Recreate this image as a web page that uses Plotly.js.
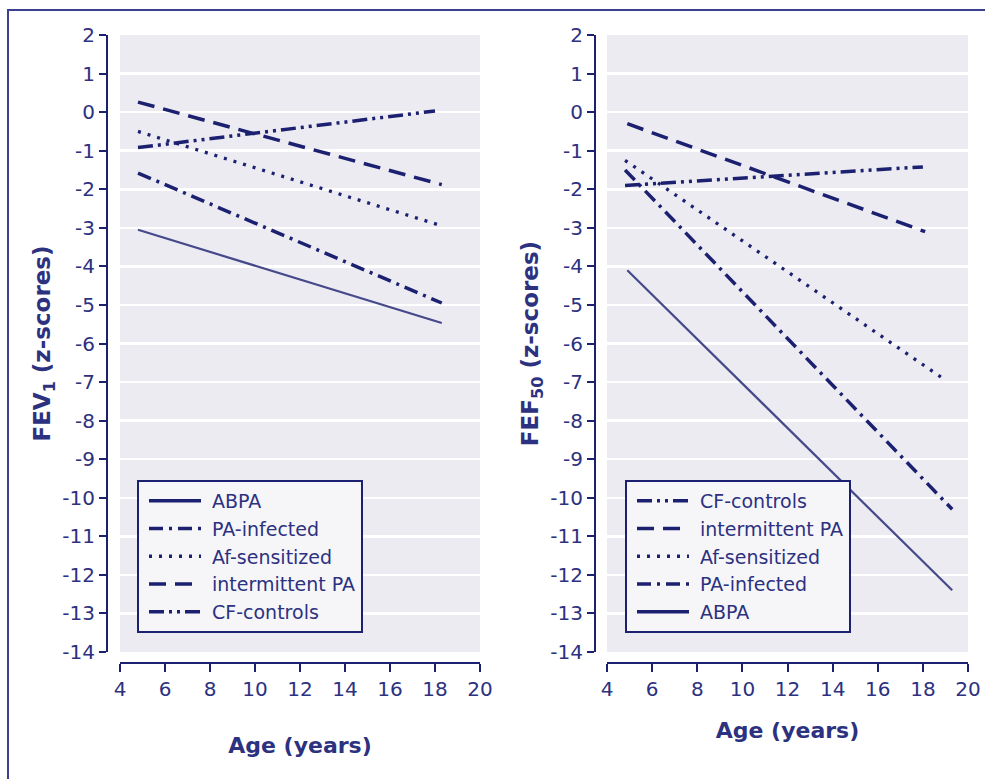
<!DOCTYPE html>
<html>
<head>
<meta charset="utf-8">
<script src="https://cdn.plot.ly/plotly-3.0.1.min.js"></script>
<style>html,body{margin:0;padding:0;background:#fff;}#chart{width:985px;height:779px;}</style>
</head>
<body>
<div id="chart"></div>
<script>
// ---- Data ----
const groups = ["ABPA", "PA-infected", "Af-sensitized", "intermittent PA", "CF-controls"];

// FEV1 panel: age at start / end and z-scores
const fevAge = {
  "ABPA": [4.8, 18.3],
  "PA-infected": [4.8, 18.3],
  "Af-sensitized": [4.8, 18.2],
  "intermittent PA": [4.8, 18.3],
  "CF-controls": [4.8, 18.0]
};
const fevZ = {
  "ABPA": [-3.05, -5.47],
  "PA-infected": [-1.58, -4.95],
  "Af-sensitized": [-0.5, -2.93],
  "intermittent PA": [0.26, -1.88],
  "CF-controls": [-0.92, 0.03]
};

// FEF50 panel
const fefAge = {
  "ABPA": [4.9, 19.3],
  "PA-infected": [4.8, 19.3],
  "Af-sensitized": [4.8, 19.0],
  "intermittent PA": [4.9, 18.1],
  "CF-controls": [4.8, 18.0]
};
const fefZ = {
  "ABPA": [-4.1, -12.4],
  "PA-infected": [-1.5, -10.3],
  "Af-sensitized": [-1.25, -6.95],
  "intermittent PA": [-0.3, -3.1],
  "CF-controls": [-1.9, -1.42]
};
const fefLegendOrder = ["CF-controls", "intermittent PA", "Af-sensitized", "PA-infected", "ABPA"];

const yTicks = [2, 1, 0, -1, -2, -3, -4, -5, -6, -7, -8, -9, -10, -11, -12, -13, -14];
const xTicks = [4, 6, 8, 10, 12, 14, 16, 18, 20];

// ---- Styles ----
const navy = "#1c2070";
const textNavy = "#2c3180";
const styles = {
  "ABPA": {color: "#45498a", width: 2.2, dash: "solid"},
  "PA-infected": {color: navy, width: 3.5, dash: "14px,6px,3px,6px"},
  "Af-sensitized": {color: navy, width: 3.3, dash: "3px,7px"},
  "intermittent PA": {color: navy, width: 3.5, dash: "17px,9px"},
  "CF-controls": {color: navy, width: 3.5, dash: "15px,5px,3px,5px,3px,5px"}
};

const W = 985, H = 779;
const fx = p => p / W;
const fy = p => 1 - p / H;

const traces = [];
groups.forEach(g => {
  traces.push({
    type: "scatter", mode: "lines", name: g,
    x: fevAge[g], y: fevZ[g],
    xaxis: "x", yaxis: "y", legend: "legend",
    line: styles[g], hoverinfo: "skip"
  });
});
fefLegendOrder.forEach(g => {
  traces.push({
    type: "scatter", mode: "lines", name: g,
    x: fefAge[g], y: fefZ[g],
    xaxis: "x2", yaxis: "y2", legend: "legend2",
    line: styles[g], hoverinfo: "skip"
  });
});

const fontFam = "DejaVu Sans, Verdana, sans-serif";
const tickFont = {family: fontFam, size: 20, color: textNavy};
const xTitleFont = {family: fontFam, size: 22, color: textNavy, weight: "bold"};
const yTitleFont = {family: fontFam, size: 23, color: textNavy, weight: "bold"};

function xAxis(d0, d1, yPos, standoff) {
  return {
    domain: [fx(d0), fx(d1)], range: [4, 20], anchor: "free", position: fy(yPos),
    tickvals: xTicks, ticktext: xTicks.map(String),
    showline: true, linecolor: navy, linewidth: 2,
    ticks: "outside", ticklen: 8, tickwidth: 2, tickcolor: navy,
    showgrid: false, zeroline: false, tickfont: tickFont,
    title: {text: "<b>Age (years)</b>", font: xTitleFont, standoff: standoff},
    fixedrange: true
  };
}
function yAxis(xPos, titleText, standoff) {
  return {
    domain: [fy(652), fy(35)], range: [-14, 2], anchor: "free", position: fx(xPos),
    tickvals: yTicks, ticktext: yTicks.map(String),
    showline: true, linecolor: navy, linewidth: 2,
    ticks: "outside", ticklen: 7, tickwidth: 2, tickcolor: navy,
    showgrid: true, gridcolor: "#ffffff", gridwidth: 2.5,
    zeroline: false, tickfont: tickFont,
    title: {text: titleText, font: yTitleFont, standoff: standoff},
    fixedrange: true
  };
}

const legendBase = {
  bgcolor: "#f6f6f9", bordercolor: navy, borderwidth: 2,
  font: {family: fontFam, size: 19, color: textNavy},
  xanchor: "left", yanchor: "top", tracegroupgap: 0,
  itemwidth: 63
};

const layout = {
  width: W, height: H,
  margin: {l: 0, r: 0, t: 0, b: 0},
  paper_bgcolor: "#ffffff",
  plot_bgcolor: "#ebebf1",
  showlegend: true,
  xaxis: xAxis(120, 480, 663, 37),
  yaxis: yAxis(107, "<b>FEV<sub>1</sub> (z-scores)</b>", 4),
  xaxis2: xAxis(607, 968, 663, 22),
  yaxis2: yAxis(595, "<b>FEF<sub>50</sub> (z-scores)</b>", 4),
  legend: Object.assign({}, legendBase, {x: fx(137), y: fy(480)}),
  legend2: Object.assign({}, legendBase, {x: fx(625), y: fy(480)}),
  shapes: [
    {type: "rect", xref: "paper", yref: "paper",
     x0: fx(8), x1: fx(1000), y0: fy(800), y1: fy(10),
     line: {color: "#3c4090", width: 2}, fillcolor: "rgba(0,0,0,0)", layer: "below"}
  ]
};

Plotly.newPlot("chart", traces, layout, {displayModeBar: false, staticPlot: true}).then(gd => {
  // lengthen the legend line samples to match the reference key
  gd.querySelectorAll(".legendlines path").forEach(p => {
    p.setAttribute("d", "M10,0h52");
    // the key sample for the solid line is drawn darker and heavier in the reference
    if (!p.style.strokeDasharray || p.style.strokeDasharray === "none") {
      p.style.stroke = navy;
      p.style.strokeWidth = "3.5px";
    }
  });
});
</script>
</body>
</html>
